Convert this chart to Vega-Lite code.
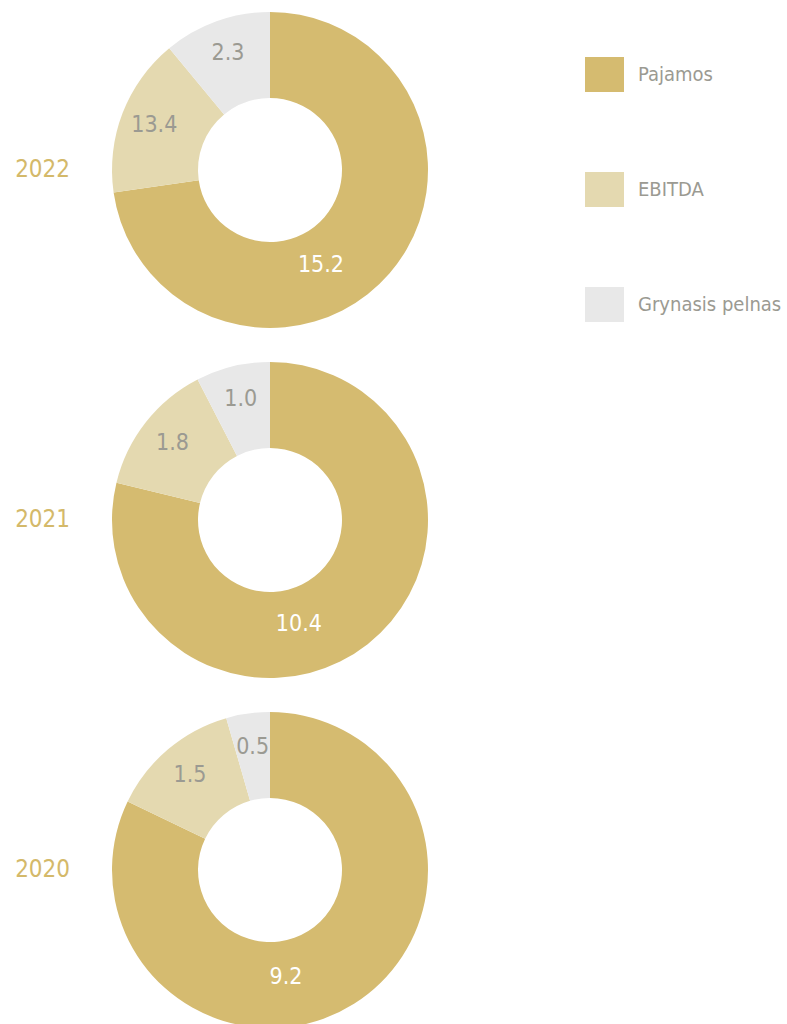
{
  "$schema": "https://vega.github.io/schema/vega-lite/v6.json",
  "padding": {"left": 15, "top": 0, "right": 0, "bottom": 0},
  "background": "white",
  "data": {
    "values": [
      {"year": "2022", "cat": "Pajamos", "value": 15.2, "label": "15.2"},
      {"year": "2022", "cat": "EBITDA", "value": 3.4, "label": "13.4"},
      {"year": "2022", "cat": "Grynasis pelnas", "value": 2.3, "label": "2.3"},
      {"year": "2021", "cat": "Pajamos", "value": 10.4, "label": "10.4"},
      {"year": "2021", "cat": "EBITDA", "value": 1.8, "label": "1.8"},
      {"year": "2021", "cat": "Grynasis pelnas", "value": 1.0, "label": "1.0"},
      {"year": "2020", "cat": "Pajamos", "value": 9.2, "label": "9.2"},
      {"year": "2020", "cat": "EBITDA", "value": 1.5, "label": "1.5"},
      {"year": "2020", "cat": "Grynasis pelnas", "value": 0.5, "label": "0.5"}
    ]
  },
  "facet": {
    "row": {
      "field": "year",
      "type": "ordinal",
      "sort": "descending",
      "header": {
        "title": null,
        "labelAngle": 0,
        "labelOrient": "left",
        "labelFont": "Liberation Sans Narrow, DejaVu Sans Condensed, sans-serif",
        "labelFontSize": 24,
        "labelColor": "#d4b96a",
        "labelPadding": -25
      }
    }
  },
  "spacing": 10,
  "spec": {
    "width": 340,
    "height": 340,
    "layer": [
      {
        "mark": {"type": "arc", "outerRadius": 158, "innerRadius": 72},
        "encoding": {
          "theta": {"field": "value", "type": "quantitative", "stack": "normalize"},
          "order": {"field": "value", "type": "quantitative", "sort": "descending"},
          "color": {
            "field": "cat",
            "type": "nominal",
            "sort": ["Pajamos", "EBITDA", "Grynasis pelnas"],
            "scale": {
              "domain": ["Pajamos", "EBITDA", "Grynasis pelnas"],
              "range": ["#d5bb70", "#e4d9b0", "#e8e8e8"]
            },
            "legend": {
              "title": null,
              "orient": "none",
              "legendX": 485,
              "legendY": 55,
              "padding": 0,
              "symbolType": "M-1,-0.9H1V0.9H-1Z",
              "symbolSize": 1521,
              "symbolStrokeWidth": 0,
              "symbolOpacity": 1,
              "rowPadding": 77,
              "labelOffset": 14,
              "labelFontSize": 20,
              "labelFont": "Liberation Sans Narrow, DejaVu Sans Condensed, sans-serif",
              "labelColor": "#9b9a92",
              "labelLimit": 300
            }
          }
        }
      },
      {
        "mark": {
          "type": "text",
          "radius": 108,
          "fontSize": 23,
          "font": "Liberation Sans Narrow, DejaVu Sans Condensed, sans-serif",
          "color": "white",
          "align": "center",
          "baseline": "middle"
        },
        "encoding": {
          "theta": {"field": "value", "type": "quantitative", "stack": "normalize", "bandPosition": 0.58},
          "order": {"field": "value", "type": "quantitative", "sort": "descending"},
          "detail": {"field": "cat", "type": "nominal"},
          "text": {"condition": {"test": "datum.cat === 'Pajamos'", "field": "label"}, "value": ""}
        }
      },
      {
        "mark": {
          "type": "text",
          "radius": 124,
          "fontSize": 23,
          "font": "Liberation Sans Narrow, DejaVu Sans Condensed, sans-serif",
          "color": "#9b9a92",
          "align": "center",
          "baseline": "middle"
        },
        "encoding": {
          "theta": {"field": "value", "type": "quantitative", "stack": "normalize"},
          "order": {"field": "value", "type": "quantitative", "sort": "descending"},
          "detail": {"field": "cat", "type": "nominal"},
          "text": {"condition": {"test": "datum.cat !== 'Pajamos'", "field": "label"}, "value": ""}
        }
      }
    ]
  },
  "config": {"view": {"stroke": null}}
}
